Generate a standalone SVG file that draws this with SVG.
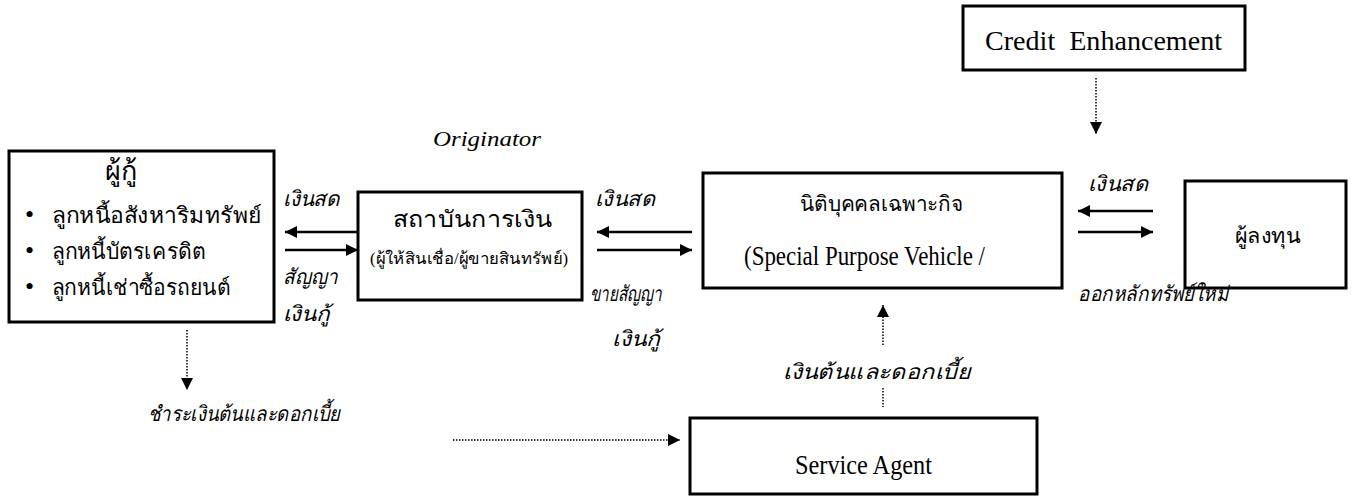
<svg xmlns="http://www.w3.org/2000/svg" width="1362" height="497" viewBox="0 0 1362 497">
<style>
.box{fill:#fff;stroke:#000;stroke-width:3}
.t{font-family:"Liberation Serif","Noto Sans CJK SC",serif;fill:#000}
.i{font-style:italic}
.solid{stroke:#000;stroke-width:2.5;fill:none}
.dot{stroke:#000;stroke-width:1.5;stroke-dasharray:1.5,1.5;fill:none}
</style>
<defs>
<marker id="ah" viewBox="0 0 10 10" refX="10" refY="5" markerWidth="14" markerHeight="12" markerUnits="userSpaceOnUse" orient="auto"><path d="M0,0L10,5L0,10z" fill="#000"/></marker>
</defs>
<rect width="1362" height="497" fill="#fff"/>
<g id="borrower">
<rect class="box" x="9" y="151" width="265" height="171"/>
<text class="t" x="121" y="180" font-size="27" text-anchor="middle">ผู้กู้</text>
<text class="t" x="25" y="223" font-size="26">•</text>
<text class="t" x="52" y="223" font-size="22" textLength="210" lengthAdjust="spacingAndGlyphs">ลูกหนี้อสังหาริมทรัพย์</text>
<text class="t" x="25" y="259" font-size="26">•</text>
<text class="t" x="52" y="259" font-size="22" textLength="153" lengthAdjust="spacingAndGlyphs">ลูกหนี้บัตรเครดิต</text>
<text class="t" x="25" y="295" font-size="26">•</text>
<text class="t" x="52" y="295" font-size="22" textLength="178" lengthAdjust="spacingAndGlyphs">ลูกหนี้เช่าซื้อรถยนต์</text>
</g>
<g id="originator">
<text class="t i" x="433" y="146" font-size="21" textLength="108" lengthAdjust="spacingAndGlyphs">Originator</text>
<rect class="box" x="358" y="192" width="224" height="108"/>
<text class="t" x="393" y="227" font-size="23" textLength="159" lengthAdjust="spacingAndGlyphs">สถาบันการเงิน</text>
<text class="t" x="370" y="264" font-size="16" textLength="198" lengthAdjust="spacingAndGlyphs">(ผู้ให้สินเชื่อ/ผู้ขายสินทรัพย์)</text>
</g>
<g id="spv">
<rect class="box" x="703" y="173" width="359" height="115"/>
<text class="t" x="800" y="211" font-size="21" textLength="163" lengthAdjust="spacingAndGlyphs">นิติบุคคลเฉพาะกิจ</text>
<text class="t" x="744" y="265" font-size="27" textLength="241" lengthAdjust="spacingAndGlyphs">(Special Purpose Vehicle /</text>
</g>
<g id="credit">
<rect class="box" x="963" y="6" width="282" height="64"/>
<text class="t" x="985" y="50" font-size="28" textLength="237" lengthAdjust="spacingAndGlyphs" xml:space="preserve">Credit  Enhancement</text>
</g>
<g id="investor">
<rect class="box" x="1185" y="181" width="161" height="107"/>
<text class="t" x="1235" y="243" font-size="21" textLength="65" lengthAdjust="spacingAndGlyphs">ผู้ลงทุน</text>
</g>
<g id="service">
<rect class="box" x="690" y="418" width="347" height="76"/>
<text class="t" x="795" y="474" font-size="27" textLength="137" lengthAdjust="spacingAndGlyphs">Service Agent</text>
</g>
<g id="connectors">
<line class="solid" x1="358" y1="232" x2="285" y2="232" marker-end="url(#ah)"/>
<line class="solid" x1="285" y1="250" x2="358" y2="250" marker-end="url(#ah)"/>
<line class="solid" x1="692" y1="232" x2="597" y2="232" marker-end="url(#ah)"/>
<line class="solid" x1="597" y1="250" x2="692" y2="250" marker-end="url(#ah)"/>
<line class="solid" x1="1153" y1="211" x2="1078" y2="211" marker-end="url(#ah)"/>
<line class="solid" x1="1078" y1="232" x2="1153" y2="232" marker-end="url(#ah)"/>
<line class="dot" x1="1096" y1="78" x2="1096" y2="134" marker-end="url(#ah)"/>
<line class="dot" x1="883" y1="345" x2="883" y2="305" marker-end="url(#ah)"/>
<line class="dot" x1="883" y1="388" x2="883" y2="407"/>
<line class="dot" x1="187" y1="330" x2="187" y2="390" marker-end="url(#ah)"/>
<line class="dot" x1="453" y1="440" x2="680" y2="440" marker-end="url(#ah)"/>
</g>
<g id="labels">
<text class="t i" x="283" y="206" font-size="21" textLength="57" lengthAdjust="spacingAndGlyphs">เงินสด</text>
<text class="t i" x="283" y="284" font-size="21" textLength="55" lengthAdjust="spacingAndGlyphs">สัญญา</text>
<text class="t i" x="283" y="321" font-size="21" textLength="47" lengthAdjust="spacingAndGlyphs">เงินกู้</text>
<text class="t i" x="595" y="206" font-size="21" textLength="60" lengthAdjust="spacingAndGlyphs">เงินสด</text>
<text class="t i" x="590" y="301" font-size="21" textLength="72" lengthAdjust="spacingAndGlyphs">ขายสัญญา</text>
<text class="t i" x="612" y="346" font-size="21" textLength="48" lengthAdjust="spacingAndGlyphs">เงินกู้</text>
<text class="t i" x="1088" y="191" font-size="21" textLength="60" lengthAdjust="spacingAndGlyphs">เงินสด</text>
<text class="t i" x="1078" y="301" font-size="21" textLength="150" lengthAdjust="spacingAndGlyphs">ออกหลักทรัพย์ใหม่</text>
<text class="t i" x="783" y="379" font-size="21" textLength="187" lengthAdjust="spacingAndGlyphs">เงินต้นและดอกเบี้ย</text>
<text class="t i" x="148" y="421" font-size="21" textLength="192" lengthAdjust="spacingAndGlyphs">ชำระเงินต้นและดอกเบี้ย</text>
</g>
</svg>
